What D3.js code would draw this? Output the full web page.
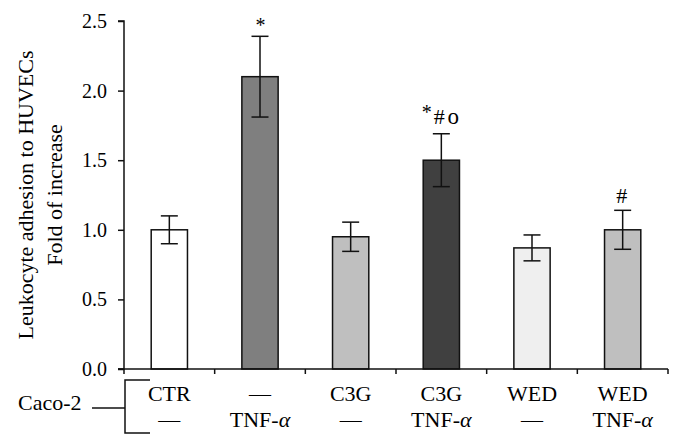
<!DOCTYPE html>
<html>
<head>
<meta charset="utf-8">
<script src="https://cdn.jsdelivr.net/npm/d3@7"></script>
<style>
  html, body { margin: 0; padding: 0; background: #fff; }
  svg { display: block; }
  text { font-family: "Liberation Serif", "DejaVu Serif", serif; fill: #000; }
</style>
</head>
<body>
<svg id="chart" width="683" height="448"></svg>
<script>
// ---- data ----
const groups = ["CTR|—", "—|TNF-α", "C3G|—", "C3G|TNF-α", "WED|—", "WED|TNF-α"];
const row1Labels = ["CTR", "—", "C3G", "C3G", "WED", "WED"];
const row2Labels = ["—", "TNF-α", "—", "TNF-α", "—", "TNF-α"];
const values = [1.00, 2.10, 0.95, 1.50, 0.87, 1.00];
const errors = [0.10, 0.29, 0.105, 0.19, 0.093, 0.14];
const barColors = ["#ffffff", "#7f7f7f", "#bfbfbf", "#404040", "#efefef", "#bfbfbf"];
const annotations = ["", "*", "", "*#o", "", "#"];
const yTicks = [0, 0.5, 1.0, 1.5, 2.0, 2.5];
const yLabelLines = ["Leukocyte adhesion to HUVECs", "Fold of increase"];
const rowHeader = "Caco-2";

// ---- layout ----
const svg = d3.select("#chart");
const mLeft = 124, mRight = 668, mTop = 21, mBottom = 369;
const FS = 22;

const x = d3.scaleBand().domain(groups).range([mLeft, mRight]).paddingInner(0.6).paddingOuter(0.3);
const y = d3.scaleLinear().domain([0, 2.5]).range([mBottom, mTop]);

// bars
svg.append("g").selectAll("rect").data(groups).join("rect")
  .attr("x", d => x(d))
  .attr("y", (d, i) => y(values[i]))
  .attr("width", x.bandwidth())
  .attr("height", (d, i) => y(0) - y(values[i]))
  .attr("fill", (d, i) => barColors[i])
  .attr("stroke", "#111")
  .attr("stroke-width", 1.5);

// error bars
const eg = svg.append("g").attr("stroke", "#111").attr("stroke-width", 1.5);
groups.forEach((g, i) => {
  const cx = x(g) + x.bandwidth() / 2;
  const hi = y(values[i] + errors[i]), lo = y(values[i] - errors[i]);
  eg.append("line").attr("x1", cx).attr("x2", cx).attr("y1", hi).attr("y2", lo);
  eg.append("line").attr("x1", cx - 8.5).attr("x2", cx + 8.5).attr("y1", hi).attr("y2", hi);
  eg.append("line").attr("x1", cx - 8.5).attr("x2", cx + 8.5).attr("y1", lo).attr("y2", lo);
});

// annotations
groups.forEach((g, i) => {
  const a = annotations[i];
  if (!a) return;
  const cx = x(g) + x.bandwidth() / 2;
  const hi = y(values[i] + errors[i]);
  if (a === "*") {
    svg.append("text").attr("x", cx + 0.5).attr("y", hi - 4).attr("text-anchor", "middle")
      .attr("font-size", 20).text("*");
  } else if (a === "#") {
    svg.append("text").attr("x", cx - 1).attr("y", hi - 7).attr("text-anchor", "middle")
      .attr("font-size", 22).text("#");
  } else {
    svg.append("text").attr("x", cx - 14.5).attr("y", hi - 14.5).attr("text-anchor", "middle")
      .attr("font-size", 20).text("*");
    svg.append("text").attr("x", cx - 2).attr("y", hi - 9.5).attr("text-anchor", "middle")
      .attr("font-size", 22).text("#");
    svg.append("text").attr("x", cx + 12).attr("y", hi - 9.5).attr("text-anchor", "middle")
      .attr("font-size", 23).text("o");
  }
});

// y axis
const yAxis = svg.append("g").attr("transform", `translate(${mLeft},0)`)
  .call(d3.axisLeft(y).tickValues(yTicks).tickFormat(d3.format(".1f")).tickSize(6).tickPadding(11));
yAxis.select(".domain").attr("stroke", "#111").attr("stroke-width", 1.5).attr("d", `M-6,${mTop}H0V${mBottom}H-6`);
yAxis.selectAll(".tick line").attr("stroke", "#111").attr("stroke-width", 1.5);
yAxis.selectAll(".tick text").attr("font-size", 20).attr("font-family", "Liberation Serif").attr("fill", "#000");

// x axis line + boundary ticks
const xg = svg.append("g").attr("stroke", "#111").attr("stroke-width", 1.5);
xg.append("line").attr("x1", mLeft - 6).attr("x2", mRight).attr("y1", mBottom).attr("y2", mBottom);
const bounds = d3.range(groups.length + 1).map(i => mLeft + i * (mRight - mLeft) / groups.length);
bounds.forEach(b => {
  xg.append("line").attr("x1", b).attr("x2", b).attr("y1", mBottom).attr("y2", mBottom + 5);
});

// category labels
groups.forEach((g, i) => {
  const cx = x(g) + x.bandwidth() / 2;
  svg.append("text").attr("x", cx).attr("y", 401).attr("text-anchor", "middle")
    .attr("font-size", FS).text(row1Labels[i]);
  const t = svg.append("text").attr("x", cx).attr("y", 427).attr("text-anchor", "middle")
    .attr("font-size", FS);
  const lab = row2Labels[i];
  if (lab.endsWith("α")) {
    t.append("tspan").text(lab.slice(0, -1));
    t.append("tspan").attr("font-style", "italic").text("α");
  } else {
    t.text(lab);
  }
});

// Caco-2 header and bracket
svg.append("text").attr("x", 18).attr("y", 410).attr("font-size", FS).text(rowHeader);
const br = svg.append("g").attr("stroke", "#111").attr("stroke-width", 1.5).attr("fill", "none");
br.append("path").attr("d", `M150,380H125V433H150`);
br.append("line").attr("x1", 92).attr("x2", 125).attr("y1", 408).attr("y2", 408);

// y label
const yl = svg.append("text").attr("transform", `translate(0,${(mTop + mBottom) / 2}) rotate(-90)`)
  .attr("text-anchor", "middle").attr("font-size", FS);
yl.append("tspan").attr("x", 0).attr("y", 33).text(yLabelLines[0]);
yl.append("tspan").attr("x", 0).attr("y", 62).text(yLabelLines[1]);
</script>
</body>
</html>
